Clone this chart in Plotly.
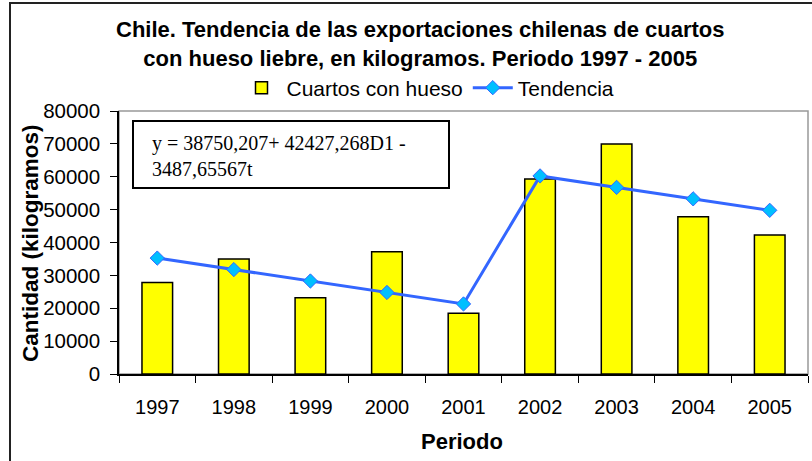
import plotly.graph_objects as go

years = ["1997", "1998", "1999", "2000", "2001", "2002", "2003", "2004", "2005"]
cuartos = [27800, 35000, 23200, 37200, 18500, 59300, 70000, 47800, 42300]
tendencia = [35260, 31770, 28290, 24800, 21310, 60250, 56760, 53280, 49790]
y_ticks = [0, 10000, 20000, 30000, 40000, 50000, 60000, 70000, 80000]

L, R, T, B = 119, 808, 111, 374
W, H = 812, 461
def px(x):
    return (x - L) / (R - L)
def py(y):
    return (B - y) / (B - T)

fig = go.Figure()
fig.add_trace(go.Bar(
    x=years, y=cuartos, name="Cuartos con hueso", width=0.4,
    marker=dict(color="#FFFF00", line=dict(color="#000000", width=1.5)),
))
fig.add_trace(go.Scatter(
    x=years, y=tendencia, name="Tendencia", mode="lines+markers",
    line=dict(color="#3366FF", width=3),
    marker=dict(symbol="diamond", size=11, color="#00BFFF",
                line=dict(color="#3366FF", width=1)),
))

font = "Liberation Sans, Arial, sans-serif"
fig.update_layout(
    width=W, height=H, autosize=False,
    margin=dict(l=L, r=W - R, t=T, b=H - B, pad=0),
    paper_bgcolor="white", plot_bgcolor="white",
    showlegend=True,
    legend=dict(orientation="h", x=px(428), y=py(88), xanchor="center", yanchor="middle",
                font=dict(family=font, size=21, color="black"),
                bgcolor="rgba(0,0,0,0)", itemwidth=40, tracegroupgap=0),
    xaxis=dict(type="category", range=[-0.5, 8.5], tickson="boundaries",
               ticks="outside", ticklen=7, tickcolor="black", showline=True,
               linecolor="black", linewidth=1.5, showgrid=False,
               ticklabelstandoff=14,
               tickfont=dict(family=font, size=20, color="black")),
    yaxis=dict(range=[0, 80000], tickvals=y_ticks, tickformat="d",
               ticks="outside", ticklen=7, tickcolor="black", showline=True,
               linecolor="black", linewidth=1.5, showgrid=False, zeroline=False,
               ticklabelstandoff=6,
               tickfont=dict(family=font, size=20.5, color="black")),
    shapes=[
        dict(type="rect", xref="paper", yref="paper", x0=0, x1=1, y0=0, y1=1,
             line=dict(color="#999999", width=1.5), layer="below"),
        dict(type="rect", xref="paper", yref="paper", x0=px(133), x1=px(449),
             y0=py(188), y1=py(121), line=dict(color="black", width=2),
             fillcolor="white"),
        dict(type="rect", xref="paper", yref="paper", x0=px(10), x1=px(816),
             y0=py(466), y1=py(3), line=dict(color="#222222", width=2)),
    ],
    annotations=[
        dict(xref="paper", yref="paper", x=px(420), y=py(44), xanchor="center",
             yanchor="middle", showarrow=False, align="center",
             text="<b>Chile. Tendencia de las exportaciones chilenas de cuartos<br>con hueso liebre, en kilogramos. Periodo 1997 - 2005</b>",
             font=dict(family=font, size=22, color="black")),
        dict(xref="paper", yref="paper", x=px(150), y=py(130), xanchor="left",
             yanchor="top", showarrow=False, align="left",
             text="y = 38750,207+ 42427,268D1 -<br>3487,65567t",
             font=dict(family="Liberation Serif, Times New Roman, serif", size=20, color="black")),
        dict(xref="paper", yref="paper", x=px(462), y=py(441), xanchor="center",
             yanchor="middle", showarrow=False, text="<b>Periodo</b>",
             font=dict(family=font, size=22, color="black")),
        dict(xref="paper", yref="paper", x=px(30), y=py(243), xanchor="center",
             yanchor="middle", showarrow=False, textangle=-90,
             text="<b>Cantidad (kilogramos)</b>",
             font=dict(family=font, size=22.5, color="black")),
    ],
)

fig.write_html("out.html", config={"displayModeBar": False},
               post_script="document.body.style.margin='0';document.body.style.overflow='hidden';")
